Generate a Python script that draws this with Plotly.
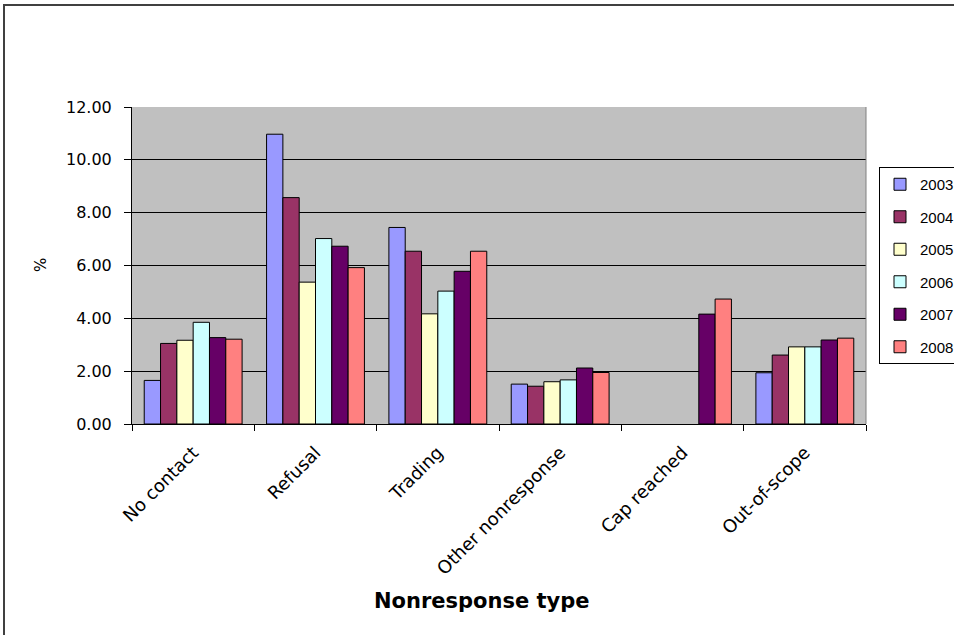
import plotly.graph_objects as go

# Nonresponse categories and yearly rates (%)
categories = ["No contact", "Refusal", "Trading", "Other nonresponse", "Cap reached", "Out-of-scope"]
years = ["2003", "2004", "2005", "2006", "2007", "2008"]

rate_2003 = [1.65, 10.97, 7.44, 1.51, None, 1.94]
rate_2004 = [3.05, 8.57, 6.54, 1.43, None, 2.61]
rate_2005 = [3.17, 5.37, 4.17, 1.60, None, 2.92]
rate_2006 = [3.85, 7.02, 5.03, 1.67, None, 2.92]
rate_2007 = [3.27, 6.73, 5.78, 2.12, 4.16, 3.18]
rate_2008 = [3.21, 5.92, 6.54, 1.95, 4.73, 3.25]

series = [rate_2003, rate_2004, rate_2005, rate_2006, rate_2007, rate_2008]
colors = ["#9999FF", "#993366", "#FFFFCC", "#CCFFFF", "#660066", "#FF8080"]

y_ticks = [0, 2, 4, 6, 8, 10, 12]

W, H = 954, 635
L, R, T, B = 132, 88, 107, 211
pw, ph = W - L - R, H - T - B

def px_x(x):
    return (x - L) / pw

def px_y(y):
    return (H - B - y) / ph

FONT = "DejaVu Sans"

fig = go.Figure()
for yr, vals, col in zip(years, series, colors):
    fig.add_trace(go.Bar(
        name=yr, x=categories, y=vals,
        marker=dict(color=col, line=dict(color="black", width=1)),
        legendgroup=yr,
    ))

fig.update_layout(
    width=W, height=H,
    margin=dict(l=L, r=R, t=T, b=B, autoexpand=False),
    paper_bgcolor="white",
    plot_bgcolor="#C0C0C0",
    barmode="group",
    bargap=0.2,
    bargroupgap=0,
    font=dict(family=FONT, size=16, color="black"),
    showlegend=True,
    legend=dict(
        x=px_x(879), xanchor="left",
        y=px_y(167), yanchor="top",
        bordercolor="black", borderwidth=1,
        bgcolor="white",
        font=dict(family="Liberation Sans", size=15, color="black"),
        traceorder="grouped",
        tracegroupgap=10,
        itemwidth=30,
    ),
)

fig.update_xaxes(
    type="category",
    showline=True, linecolor="black", linewidth=1,
    ticks="outside", tickson="boundaries", ticklen=6, tickcolor="black",
    tickangle=-45,
    ticklabelstandoff=10,
    tickfont=dict(family=FONT, size=18, color="black"),
    showgrid=False,
    automargin=False,
)

fig.update_yaxes(
    range=[0, 12],
    tickvals=y_ticks,
    tickformat=".2f",
    showline=True, linecolor="black", linewidth=1,
    ticks="outside", ticklen=7, tickcolor="black",
    ticklabelstandoff=9,
    tickfont=dict(family=FONT, size=16, color="black"),
    showgrid=True, gridcolor="black", gridwidth=1,
    zeroline=False,
    automargin=False,
)

# Axis titles
fig.add_annotation(
    text="%", textangle=-90,
    xref="paper", yref="paper",
    x=px_x(41), y=px_y(265),
    xanchor="center", yanchor="middle",
    showarrow=False,
    font=dict(family=FONT, size=15, color="black"),
)
fig.add_annotation(
    text="<b>Nonresponse type</b>",
    xref="paper", yref="paper",
    x=px_x(482), y=px_y(601),
    xanchor="center", yanchor="middle",
    showarrow=False,
    font=dict(family=FONT, size=21, color="black"),
)

# Plot-area border (grey on the right) and chart frame
fig.add_shape(type="line", xref="paper", yref="paper",
              x0=1, x1=1, y0=0, y1=1,
              line=dict(color="#808080", width=1), layer="above")
fig.add_shape(type="rect", xref="paper", yref="paper",
              x0=px_x(4), x1=px_x(1000), y0=px_y(5), y1=px_y(700),
              line=dict(color="#404040", width=2), layer="above")

fig.write_html("out.html")
